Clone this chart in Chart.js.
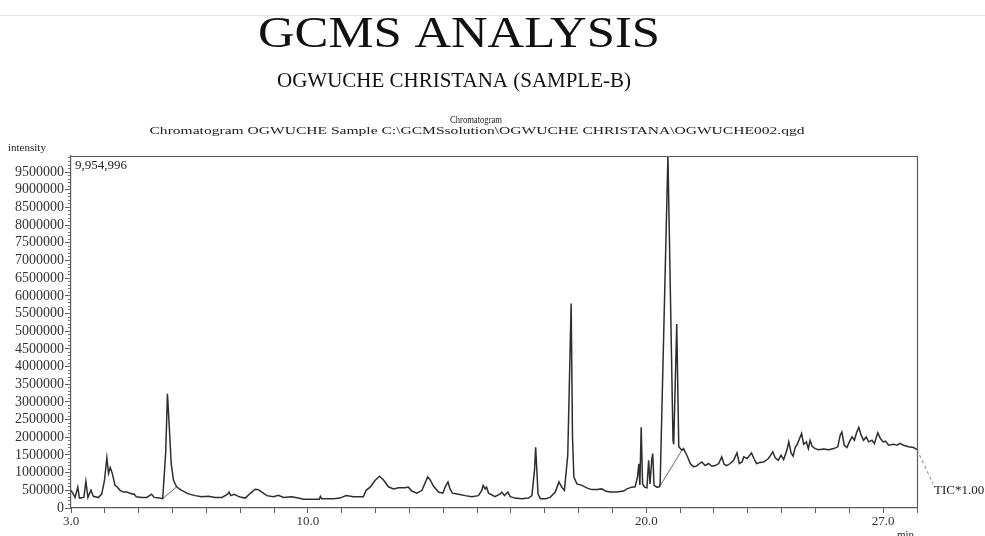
<!DOCTYPE html>
<html>
<head>
<meta charset="utf-8">
<title>GCMS ANALYSIS</title>
<script src="https://cdn.jsdelivr.net/npm/chart.js@4.4.1/dist/chart.umd.min.js"></script>
<style>
  html, body { margin: 0; padding: 0; background: #ffffff; }
  canvas { display: block; }
</style>
</head>
<body>
<canvas id="tic" width="985" height="536"></canvas>
<script>
// Total ion chromatogram, sample B: retention time (min) and intensity (counts)
const retentionTime = [
  3.00, 3.07, 3.12, 3.20, 3.25, 3.38, 3.44, 3.50, 3.59, 3.66,
  3.81, 3.91, 3.99, 4.06, 4.11, 4.16, 4.22, 4.30, 4.36, 4.45,
  4.55, 4.65, 4.82, 4.86, 4.93, 5.09, 5.24, 5.38, 5.46, 5.62,
  5.71, 5.80, 5.85, 5.91, 5.96, 6.03, 6.12, 6.27, 6.47, 6.67,
  6.86, 7.06, 7.26, 7.46, 7.63, 7.67, 7.72, 7.82, 7.95, 8.00,
  8.15, 8.29, 8.44, 8.54, 8.64, 8.79, 8.98, 9.13, 9.28, 9.52,
  9.72, 9.87, 10.07, 10.34, 10.37, 10.41, 10.75, 10.95, 11.13, 11.35,
  11.64, 11.72, 11.84, 11.99, 12.12, 12.24, 12.38, 12.53, 12.68, 12.87,
  12.97, 13.07, 13.22, 13.37, 13.54, 13.61, 13.71, 13.86, 13.99, 14.06,
  14.14, 14.20, 14.27, 14.45, 14.65, 14.84, 15.04, 15.14, 15.18, 15.24,
  15.28, 15.34, 15.53, 15.68, 15.73, 15.81, 15.91, 15.98, 16.12, 16.32,
  16.52, 16.62, 16.70, 16.73, 16.77, 16.80, 16.87, 17.02, 17.16, 17.31,
  17.42, 17.50, 17.58, 17.68, 17.78, 17.82, 17.86, 17.95, 18.10, 18.24,
  18.39, 18.55, 18.69, 18.79, 18.93, 19.13, 19.33, 19.43, 19.57, 19.67,
  19.74, 19.78, 19.81, 19.85, 19.89, 19.95, 20.02, 20.07, 20.11, 20.16,
  20.19, 20.23, 20.31, 20.39, 20.41, 20.64, 20.79, 20.81, 20.90, 20.96,
  21.05, 21.10, 21.20, 21.30, 21.39, 21.47, 21.64, 21.74, 21.84, 21.94,
  22.04, 22.14, 22.23, 22.30, 22.38, 22.48, 22.58, 22.68, 22.75, 22.83,
  22.88, 22.98, 23.11, 23.18, 23.26, 23.37, 23.47, 23.61, 23.74, 23.81,
  23.90, 23.98, 24.06, 24.16, 24.21, 24.28, 24.34, 24.40, 24.47, 24.53,
  24.59, 24.65, 24.73, 24.79, 24.84, 24.90, 24.99, 25.09, 25.24, 25.39,
  25.54, 25.66, 25.73, 25.78, 25.85, 25.93, 26.00, 26.08, 26.15, 26.22,
  26.28, 26.35, 26.42, 26.50, 26.57, 26.67, 26.74, 26.84, 26.92, 27.00,
  27.07, 27.16, 27.31, 27.41, 27.50, 27.60, 27.75, 27.90, 28.00
];
const intensity = [
  500000, 390000, 300000, 590000, 280000, 300000, 750000, 300000, 500000, 330000,
  295000, 400000, 785000, 1420000, 980000, 1145000, 980000, 640000, 600000, 500000,
  450000, 450000, 390000, 400000, 320000, 300000, 300000, 390000, 300000, 280000,
  265000, 1600000, 3230000, 2200000, 1260000, 785000, 600000, 500000, 400000, 350000,
  320000, 330000, 300000, 300000, 390000, 450000, 350000, 390000, 330000, 312000,
  280000, 408000, 530000, 520000, 450000, 350000, 320000, 360000, 300000, 320000,
  280000, 246000, 246000, 246000, 330000, 260000, 260000, 280000, 350000, 320000,
  320000, 500000, 590000, 785000, 900000, 785000, 600000, 540000, 570000, 570000,
  590000, 480000, 420000, 500000, 880000, 800000, 620000, 450000, 420000, 600000,
  737000, 540000, 420000, 390000, 350000, 320000, 350000, 500000, 640000, 540000,
  590000, 420000, 320000, 400000, 450000, 350000, 450000, 320000, 280000, 265000,
  280000, 350000, 1100000, 1720000, 1000000, 400000, 265000, 265000, 300000, 450000,
  737000, 590000, 500000, 1500000, 5780000, 2000000, 880000, 680000, 640000, 570000,
  520000, 520000, 540000, 480000, 450000, 450000, 480000, 540000, 590000, 600000,
  880000, 1250000, 650000, 2280000, 680000, 590000, 570000, 1350000, 680000, 1350000,
  1540000, 640000, 590000, 600000, 700000, 9954996, 1918000, 1800000, 5200000, 1730000,
  1635000, 1680000, 1493000, 1258000, 1170000, 1180000, 1303000, 1200000, 1258000, 1180000,
  1200000, 1258000, 1445000, 1240000, 1200000, 1258000, 1350000, 1558000, 1258000, 1303000,
  1445000, 1400000, 1558000, 1400000, 1258000, 1290000, 1300000, 1400000, 1587000, 1420000,
  1350000, 1490000, 1370000, 1652000, 1870000, 1560000, 1470000, 1710000, 1820000, 1966000,
  2107000, 1800000, 1870000, 1680000, 1915000, 1745000, 1680000, 1650000, 1670000, 1650000,
  1680000, 1730000, 2060000, 2150000, 1775000, 1710000, 1870000, 2010000, 1915000, 2150000,
  2277000, 2060000, 1915000, 2010000, 1870000, 1915000, 1820000, 2125000, 1965000, 1870000,
  1890000, 1775000, 1800000, 1775000, 1830000, 1775000, 1730000, 1710000, 1650000
];

// Integration baselines drawn under two of the peaks
const baselineTime1 = [5.71, 6.12];
const baselineIntensity1 = [265000, 600000];
const baselineTime2 = [20.39, 21.05];
const baselineIntensity2 = [600000, 1630000];

// Axis ranges, tick steps and labelled times
const timeRange = [3.0, 28.0];
const intensityMax = 9954996;
const majorStep = 500000;
const minorStep = 100000;
const labelledTimes = [3, 10, 20, 27];

const SERIF = "'Liberation Serif', 'Times New Roman', Times, serif";

const toPoints = (xs, ys) => xs.map((x, i) => ({ x: x, y: ys[i] }));

// Tick values at whole multiples of a step, up to the axis maximum
function stepTicks(step, max) {
  const out = [];
  for (let v = 0; v <= max; v += step) out.push({ value: v });
  return out;
}

// Draws a string centred at cx and stretched to the given width
function stretchedText(ctx, text, cx, y, font, width) {
  ctx.font = font;
  const w = ctx.measureText(text).width;
  ctx.save();
  ctx.translate(cx, y);
  ctx.scale(width / w, 1);
  ctx.textAlign = 'center';
  ctx.textBaseline = 'alphabetic';
  ctx.fillText(text, 0, 0);
  ctx.restore();
}

const decorations = {
  id: 'decorations',
  afterDraw(chart) {
    const ctx = chart.ctx;
    const { left, top, right, bottom } = chart.chartArea;
    const xs = chart.scales.x, ys = chart.scales.y;
    ctx.save();

    // page rule under the top margin
    ctx.strokeStyle = '#e4e4e4';
    ctx.lineWidth = 1;
    ctx.beginPath();
    ctx.moveTo(0, 15.5);
    ctx.lineTo(985, 15.5);
    ctx.stroke();

    // close the plot frame (top and right)
    ctx.strokeStyle = '#5a5a5a';
    ctx.lineWidth = 1.2;
    ctx.beginPath();
    ctx.moveTo(left, top + 0.5);
    ctx.lineTo(right + 0.5, top + 0.5);
    ctx.lineTo(right + 0.5, bottom);
    ctx.stroke();

    // headings
    ctx.fillStyle = '#111111';
    stretchedText(ctx, 'GCMS ANALYSIS', 459, 47, '45px ' + SERIF, 402);
    stretchedText(ctx, 'OGWUCHE CHRISTANA (SAMPLE-B)', 454, 87, '20px ' + SERIF, 354);
    ctx.fillStyle = '#222222';
    stretchedText(ctx, 'Chromatogram', 476, 123, '10px ' + SERIF, 52);
    stretchedText(ctx, 'Chromatogram OGWUCHE Sample C:\\GCMSsolution\\OGWUCHE CHRISTANA\\OGWUCHE002.qgd',
      477, 134, '11px ' + SERIF, 655);

    // axis captions
    ctx.font = '11px ' + SERIF;
    ctx.textAlign = 'left';
    ctx.fillText('intensity', 8, 151);
    ctx.fillText('min', 897, 538);

    // maximum intensity readout
    ctx.font = '13px ' + SERIF;
    ctx.fillText(intensityMax.toLocaleString('en-US'), left + 4, top + 13);

    // trace identifier with dashed leader from the last point
    const n = retentionTime.length - 1;
    const px = xs.getPixelForValue(retentionTime[n]);
    const py = ys.getPixelForValue(intensity[n]);
    ctx.strokeStyle = '#777777';
    ctx.lineWidth = 1;
    ctx.setLineDash([3, 3]);
    ctx.beginPath();
    ctx.moveTo(px, py);
    ctx.lineTo(px + 16, py + 34);
    ctx.stroke();
    ctx.setLineDash([]);
    ctx.fillStyle = '#222222';
    ctx.font = '13px ' + SERIF;
    ctx.fillText('TIC*1.00', px + 17, py + 44);

    ctx.restore();
  }
};

new Chart(document.getElementById('tic'), {
  type: 'line',
  data: {
    datasets: [
      {
        label: 'TIC',
        data: toPoints(retentionTime, intensity),
        borderColor: '#2e2e2e',
        borderWidth: 1.5,
        pointRadius: 0,
        tension: 0,
        fill: false
      },
      {
        label: 'baseline 1',
        data: toPoints(baselineTime1, baselineIntensity1),
        borderColor: '#6a6a6a',
        borderWidth: 1,
        pointRadius: 0,
        fill: false
      },
      {
        label: 'baseline 2',
        data: toPoints(baselineTime2, baselineIntensity2),
        borderColor: '#6a6a6a',
        borderWidth: 1,
        pointRadius: 0,
        fill: false
      }
    ]
  },
  options: {
    responsive: false,
    animation: false,
    devicePixelRatio: 1,
    layout: { padding: { left: 0, top: 156, right: 68, bottom: 6 } },
    plugins: {
      legend: { display: false },
      tooltip: { enabled: false }
    },
    scales: {
      x: {
        type: 'linear',
        min: timeRange[0],
        max: timeRange[1],
        afterFit: (s) => { s.height = 22; },
        border: { display: true, color: '#5a5a5a', width: 1.2 },
        grid: { drawOnChartArea: false, drawTicks: true, tickLength: 5, color: '#5a5a5a' },
        ticks: {
          stepSize: 1,
          autoSkip: false,
          maxRotation: 0,
          padding: 1,
          color: '#333333',
          font: { family: SERIF, size: 13 },
          callback: (v) => labelledTimes.includes(v) ? v.toFixed(1) : ''
        }
      },
      y: {
        type: 'linear',
        position: 'left',
        weight: 1,
        min: 0,
        max: intensityMax,
        afterFit: (s) => { s.width = 71; },
        afterBuildTicks: (s) => { s.ticks = stepTicks(majorStep, intensityMax); },
        border: { display: true, color: '#5a5a5a', width: 1.2 },
        grid: { drawOnChartArea: false, drawTicks: true, tickLength: 6, color: '#5a5a5a' },
        ticks: {
          autoSkip: false,
          padding: 1,
          color: '#333333',
          font: { family: SERIF, size: 14 },
          callback: (v) => String(v)
        }
      },
      yMinor: {
        type: 'linear',
        position: 'left',
        weight: 0,
        min: 0,
        max: intensityMax,
        afterFit: (s) => { s.width = 0; },
        afterBuildTicks: (s) => { s.ticks = stepTicks(minorStep, intensityMax); },
        border: { display: false },
        grid: { drawOnChartArea: false, drawTicks: true, tickLength: 3, color: '#777777' },
        ticks: {
          autoSkip: false,
          padding: 0,
          font: { size: 1 },
          callback: () => ''
        }
      }
    }
  },
  plugins: [decorations]
});
</script>
</body>
</html>
